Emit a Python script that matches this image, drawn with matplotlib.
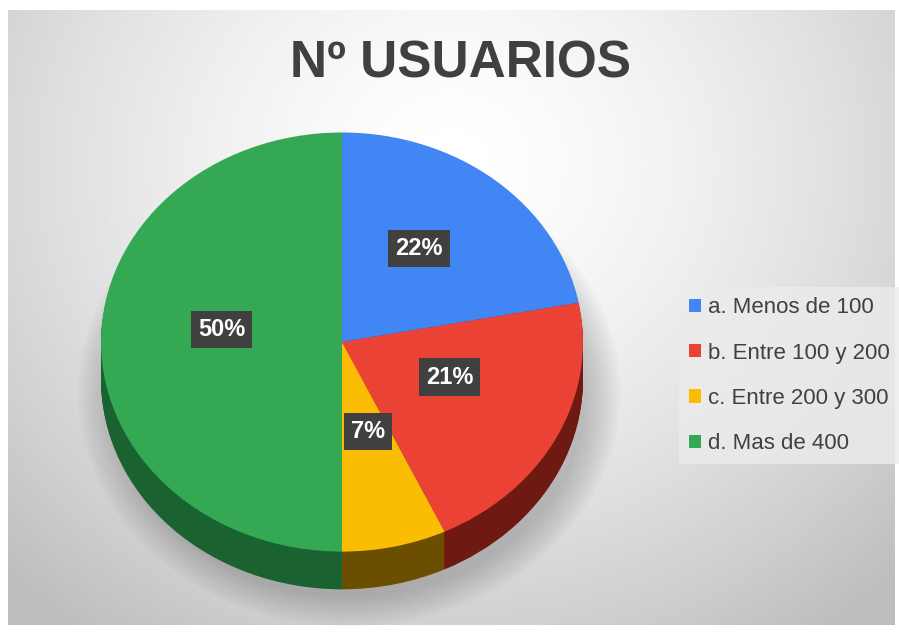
import numpy as np
import matplotlib
matplotlib.use("Agg")
import matplotlib.pyplot as plt
from matplotlib.patches import Ellipse

categorias = ["a. Menos de 100", "b. Entre 100 y 200", "c. Entre 200 y 300", "d. Mas de 400"]
porcentajes = [22, 21, 7, 50]
colores = ["#4285F4", "#EA4335", "#FBBC04", "#34A853"]
colores_lado = ["#1f4f9a", "#6e1a12", "#6b4e00", "#1a6230"]
titulo = "Nº USUARIOS"

plt.rcParams["font.family"] = ["Liberation Sans", "DejaVu Sans"]

fig = plt.figure(figsize=(8.99, 6.39), dpi=100)
fig.patch.set_facecolor("white")

# fondo con degradado radial
bg = fig.add_axes([8/899, 1 - 625/639, 887/899, 615/639])
xx, yy = np.meshgrid(np.linspace(0, 1, 400), np.linspace(0, 1, 300))
d = np.sqrt(((xx - 0.5) / 0.72) ** 2 + ((yy - 0.25) / 0.95) ** 2)
v = 1.0 - 0.26 * np.clip(d, 0, 1) ** 1.5
bg.imshow(v, cmap="gray", vmin=0, vmax=1, aspect="auto", extent=(0, 1, 1, 0))
bg.set_axis_off()

ax = fig.add_axes([89/899, (639 - 604)/639, 506/899, 482/639])
ax.set_axis_off()

# sombra bajo la tarta
for k in range(10):
    ax.add_patch(Ellipse((0.03, -0.24), 1.98 + 0.03*k, 1.96 + 0.03*k,
                         facecolor="black", alpha=0.02, edgecolor="none",
                         zorder=0, clip_on=False))

# lados (profundidad)
depth = 0.18
for dz in np.linspace(-depth, -0.01, 30):
    ax.pie(porcentajes, colors=colores_lado, startangle=90, counterclock=False,
           center=(0, dz), wedgeprops=dict(linewidth=0))

wedges, _, autotexts = ax.pie(
    porcentajes, colors=colores, startangle=90, counterclock=False,
    autopct="%1.0f%%", pctdistance=0.5, wedgeprops=dict(linewidth=0),
    textprops=dict(color="white", fontsize=17, fontweight="bold"))
for t in autotexts:
    x, y = t.get_position()
    t.set_position((x, y + 0.06))
    t.set_bbox(dict(facecolor="#404040", edgecolor="none", boxstyle="square,pad=0.3"))
    t.set_zorder(10)

ax.set_aspect("auto")
ax.set_xlim(-1.05, 1.05)
ax.set_ylim(-1.25, 1.05)

fig.text(460/899, 1 - 64/639, titulo, ha="center", va="center", fontsize=37,
         fontweight="bold", color="#404040")

leg = fig.legend(wedges, categorias, loc="upper left", bbox_to_anchor=(668/899, 1 - 276/639),
                 frameon=True, fontsize=16, handlelength=0.55, handleheight=0.55,
                 handletextpad=0.3, labelspacing=1.1, borderpad=0.45, fancybox=False)
leg.get_frame().set_facecolor("#ececec")
leg.get_frame().set_edgecolor("none")
for t in leg.get_texts():
    t.set_color("#404040")

fig.savefig("out.png", dpi=100)
